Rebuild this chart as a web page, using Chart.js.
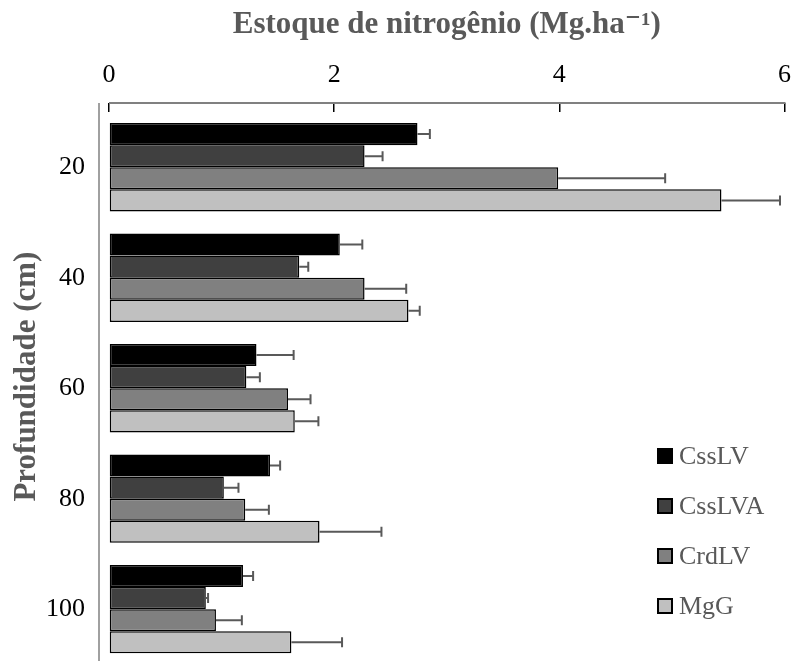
<!DOCTYPE html>
<html>
<head>
<meta charset="utf-8">
<script src="https://cdn.jsdelivr.net/npm/chart.js@4.4.1/dist/chart.umd.min.js"></script>
<style>
  html, body { margin: 0; padding: 0; background: #fff; overflow: hidden; }
  #wrap { position: relative; width: 803px; height: 704px; }
  #legend { position: absolute; left: 657px; top: 431px; font-family: "Liberation Serif", "Times New Roman", Times, "DejaVu Serif", serif; font-size: 26px; color: #595959; }
  .item { display: flex; align-items: center; height: 50px; }
  .box { width: 12px; height: 12px; border: 2px solid #000; margin-right: 6px; }
</style>
</head>
<body>
<div id="wrap">
  <canvas id="chart" width="803" height="704"></canvas>
  <div id="legend"></div>
</div>
<script>
// Depth classes (cm)
const depths = ['20', '40', '60', '80', '100'];

// Nitrogen stock (Mg/ha) per soil
const cssLV  = [2.74, 2.05, 1.31, 1.43, 1.19];
const cssLVA = [2.27, 1.69, 1.22, 1.02, 0.86];
const crdLV  = [3.99, 2.27, 1.59, 1.21, 0.95];
const mgG    = [5.44, 2.66, 1.65, 1.87, 1.62];

// Error bars (+)
const errCssLV  = [0.11, 0.20, 0.33, 0.09, 0.09];
const errCssLVA = [0.16, 0.08, 0.12, 0.13, 0.02];
const errCrdLV  = [0.95, 0.37, 0.20, 0.21, 0.23];
const errMgG    = [0.52, 0.10, 0.21, 0.55, 0.45];

const xTicks = [0, 2, 4, 6];

const seriesNames = ['CssLV', 'CssLVA', 'CrdLV', 'MgG'];
const seriesColors = ['#000000', '#404040', '#808080', '#c0c0c0'];
const seriesData = [cssLV, cssLVA, crdLV, mgG];
const seriesErr = [errCssLV, errCssLVA, errCrdLV, errMgG];

const serif = '"Liberation Serif", "Times New Roman", Times, "DejaVu Serif", serif';

// error bars + axis frame lines
const extras = {
    id: 'extras',
    afterDatasetsDraw(chart) {
        const ctx = chart.ctx;
        const xs = chart.scales.x;
        ctx.save();
        ctx.strokeStyle = '#595959';
        ctx.lineWidth = 2;
        chart.data.datasets.forEach((ds, i) => {
            const meta = chart.getDatasetMeta(i);
            meta.data.forEach((bar, j) => {
                const xe = xs.getPixelForValue(ds.data[j] + ds.err[j]);
                ctx.beginPath();
                ctx.moveTo(bar.x, bar.y);
                ctx.lineTo(xe, bar.y);
                ctx.moveTo(xe, bar.y - 5);
                ctx.lineTo(xe, bar.y + 5);
                ctx.stroke();
            });
        });
        ctx.restore();
    },
    afterDraw(chart) {
        const ctx = chart.ctx;
        const a = chart.chartArea;
        const xs = chart.scales.x;
        const lineY = a.top - 9;
        ctx.save();
        ctx.strokeStyle = '#808080';
        ctx.lineWidth = 2;
        ctx.beginPath();
        ctx.moveTo(xs.getPixelForValue(0), lineY);
        ctx.lineTo(xs.getPixelForValue(6) + 1, lineY);
        ctx.stroke();
        ctx.lineWidth = 1.5;
        ctx.beginPath();
        ctx.moveTo(a.left - 10, lineY);
        ctx.lineTo(a.left - 10, a.bottom);
        ctx.stroke();
        ctx.restore();
    }
};

const chart = new Chart(document.getElementById('chart'), {
    type: 'bar',
    data: {
        labels: depths,
        datasets: seriesNames.map((name, i) => ({
            label: name,
            data: seriesData[i],
            err: seriesErr[i],
            backgroundColor: seriesColors[i],
            borderColor: '#000',
            borderWidth: 1.5,
            borderSkipped: false,
            categoryPercentage: 0.8,
            barPercentage: 1.0
        }))
    },
    options: {
        indexAxis: 'y',
        responsive: false,
        animation: false,
        layout: { padding: 0 },
        plugins: {
            legend: { display: false },
            tooltip: { enabled: false }
        },
        scales: {
            x: {
                position: 'top',
                min: 0,
                max: 6,
                afterBuildTicks: s => { s.ticks = xTicks.map(v => ({ value: v })); },
                afterFit: s => { s.height = 112; },
                ticks: {
                    padding: 12,
                    color: '#000',
                    font: { family: serif, size: 26 }
                },
                grid: {
                    drawOnChartArea: false,
                    tickLength: 9,
                    color: '#000',
                    lineWidth: 1.5
                },
                border: { display: false },
                title: {
                    display: true,
                    text: 'Estoque de nitrogênio (Mg.ha⁻¹)',
                    color: '#595959',
                    font: { family: serif, size: 31, weight: 'bold' },
                    padding: { top: 6, bottom: 0 }
                }
            },
            y: {
                afterFit: s => { s.width = 109; },
                ticks: {
                    padding: 24,
                    color: '#000',
                    font: { family: serif, size: 26 }
                },
                grid: { display: false, drawTicks: false },
                border: { display: false },
                title: {
                    display: true,
                    // leading spaces nudge the title up a bit, like the original
                    text: '   Profundidade (cm)',
                    color: '#595959',
                    font: { family: serif, size: 31, weight: 'bold' },
                    padding: { top: 8, bottom: 0 }
                }
            }
        }
    },
    plugins: [extras]
});

// legend built from the datasets
const legend = document.getElementById('legend');
chart.data.datasets.forEach(ds => {
    const item = document.createElement('div');
    item.className = 'item';
    const box = document.createElement('span');
    box.className = 'box';
    box.style.background = ds.backgroundColor;
    const txt = document.createElement('span');
    txt.textContent = ds.label;
    item.appendChild(box);
    item.appendChild(txt);
    legend.appendChild(item);
});
</script>
</body>
</html>
